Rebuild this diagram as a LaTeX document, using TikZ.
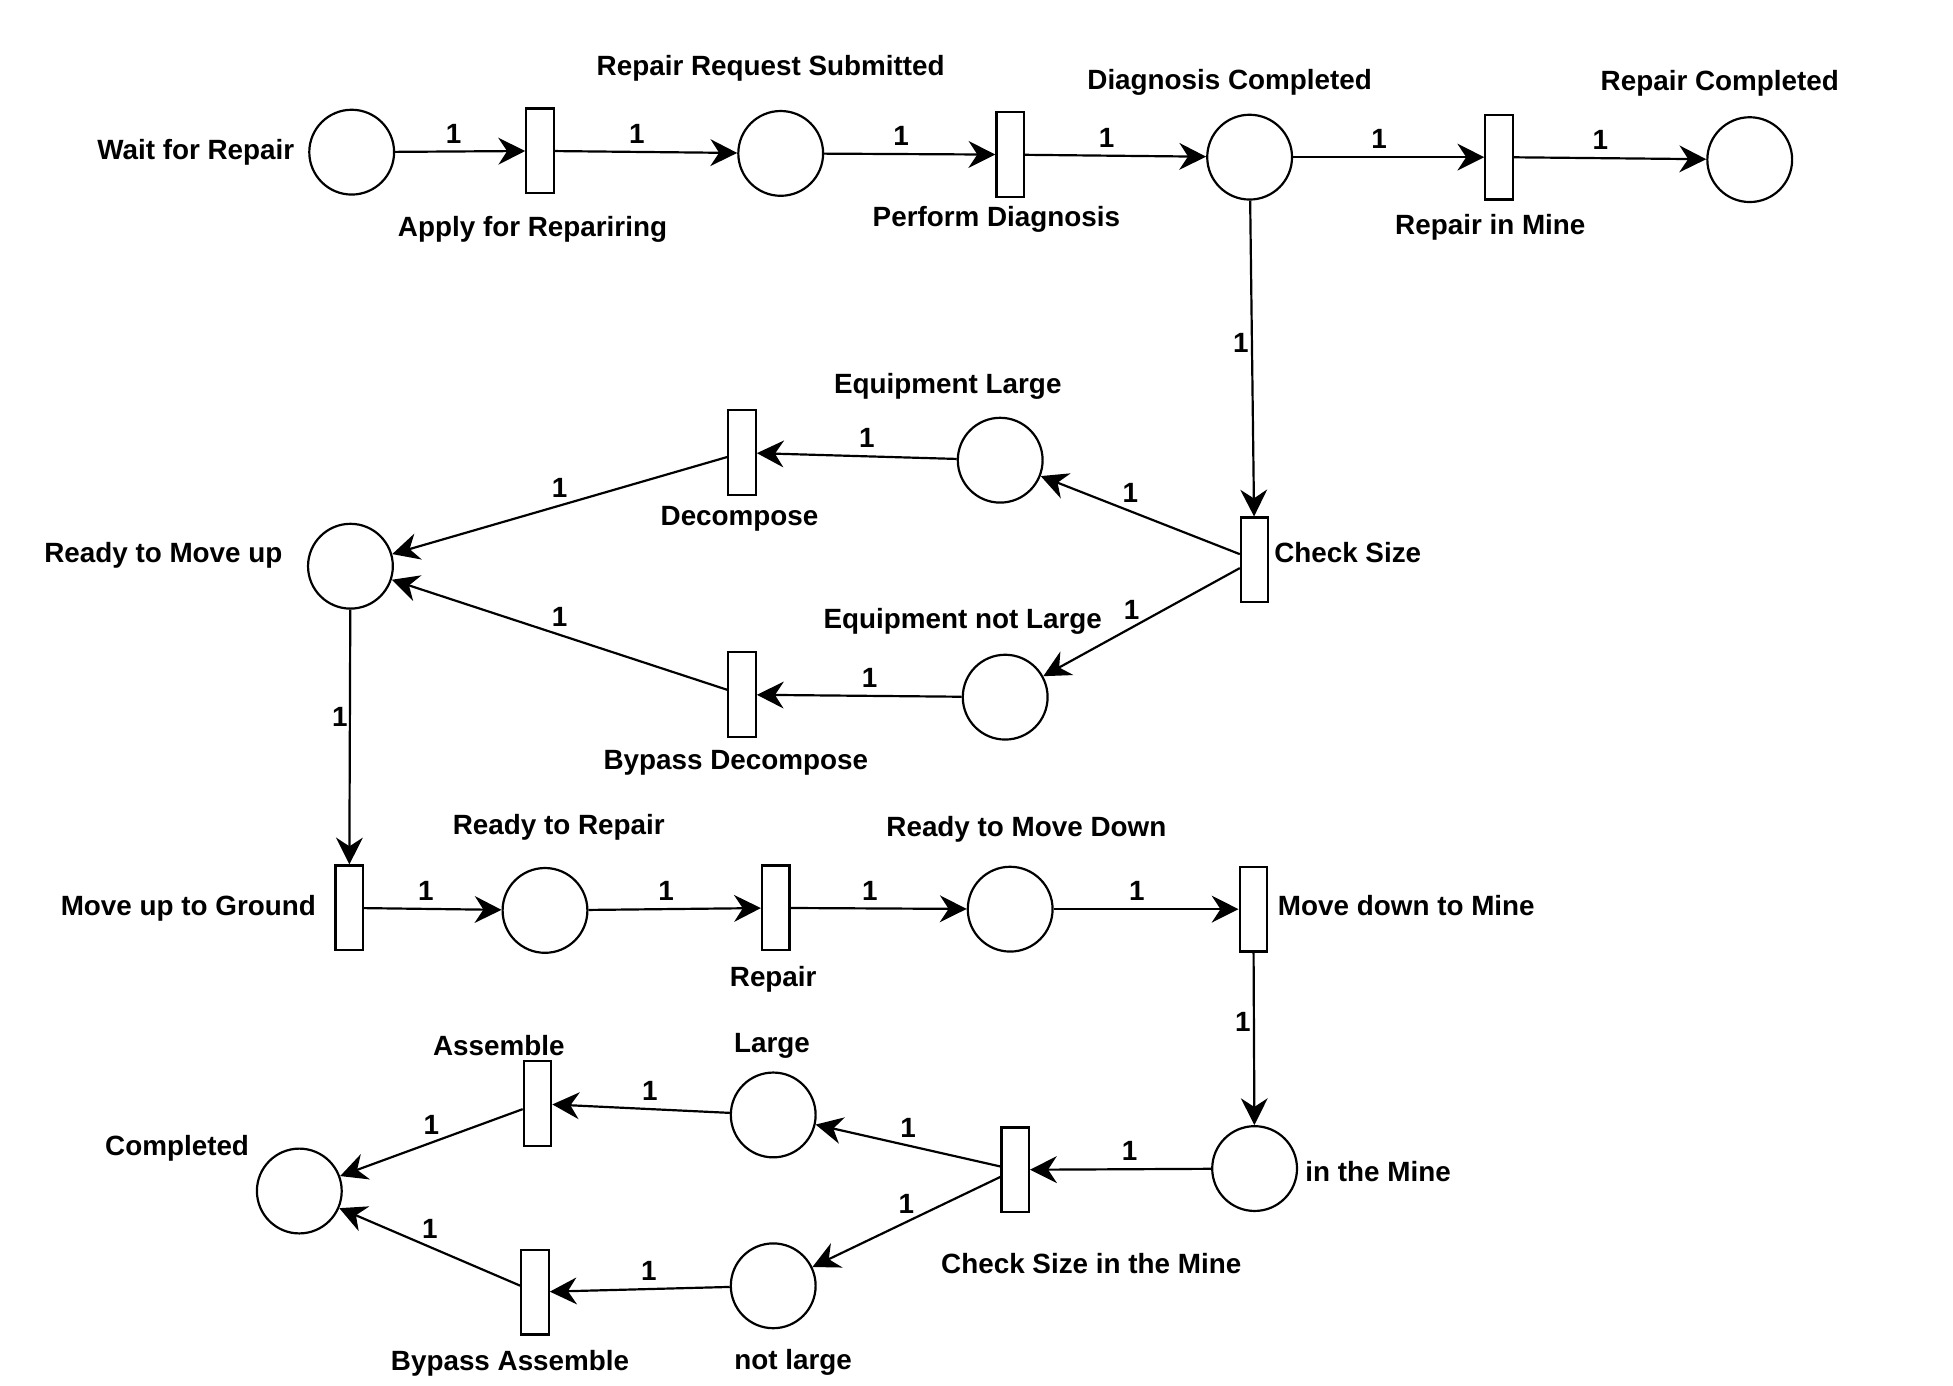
\documentclass[tikz,border=0pt]{standalone}
\usepackage{fontspec}
\setmainfont{Liberation Sans}
\usetikzlibrary{arrows.meta}

\begin{document}
\begin{tikzpicture}[x=2cm,y=2cm,line width=1pt,font=\fontsize{12.7}{14}\selectfont\bfseries,
  place/.style={draw,circle,minimum size=1.36cm,inner sep=0pt},
  trans/.style={draw,rectangle,minimum width=0.44cm,minimum height=1.36cm,inner sep=0pt},
  arc/.style={-{Stealth[length=4.3mm,width=4.3mm,inset=1.4mm]}}]
\useasboundingbox (0,0) rectangle (15.66,-11.11);
% places
\node[place](wait) at (2.82,-1.22){};
\node[place](submitted) at (6.26,-1.23){};
\node[place](diagnosed) at (10.02,-1.26){};
\node[place](repaired) at (14.03,-1.28){};
\node[place](large) at (8.02,-3.69){};
\node[place](notlarge) at (8.06,-5.59){};
\node[place](moveup) at (2.81,-4.54){};
\node[place](readyrep) at (4.37,-7.30){};
\node[place](movedown) at (8.10,-7.29){};
\node[place](inmine) at (10.06,-9.37){};
\node[place](mlarge) at (6.20,-8.94){};
\node[place](mnotlarge) at (6.20,-10.31){};
\node[place](done) at (2.40,-9.55){};
% transitions
\node[trans](apply) at (4.33,-1.21){};
\node[trans](diagnose) at (8.10,-1.24){};
\node[trans](repmine) at (12.02,-1.26){};
\node[trans](decomp) at (5.95,-3.63){};
\node[trans](check) at (10.06,-4.49){};
\node[trans](bypassd) at (5.95,-5.57){};
\node[trans](toground) at (2.80,-7.28){};
\node[trans](repair) at (6.22,-7.28){};
\node[trans](tomine) at (10.05,-7.29){};
\node[trans](assemble) at (4.31,-8.85){};
\node[trans](checkmine) at (8.14,-9.38){};
\node[trans](bypassa) at (4.29,-10.36){};
% texts
\node(lwait) at (1.57,-1.22){Wait for Repair};
\node(lsubmitted) at (6.18,-0.55){Repair Request Submitted};
\node(ldiagnosed) at (9.86,-0.66){Diagnosis Completed};
\node(lrepaired) at (13.79,-0.67){Repair Completed};
\node(lapply) at (4.27,-1.84){Apply for Repariring};
\node(ldiagnose) at (7.99,-1.76){Perform Diagnosis};
\node(lrepmine) at (11.95,-1.82){Repair in Mine};
\node(llarge) at (7.60,-3.10){Equipment Large};
\node(ldecomp) at (5.93,-4.16){Decompose};
\node(lmoveup) at (1.31,-4.45){Ready to Move up};
\node[anchor=west](lcheck) at (10.15,-4.43){Check Size};
\node(lnotlarge) at (7.72,-4.98){Equipment not Large};
\node(lbypassd) at (5.90,-6.12){Bypass Decompose};
\node(lreadyrep) at (4.48,-6.63){Ready to Repair};
\node(lmovedown) at (8.23,-6.65){Ready to Move Down};
\node(ltoground) at (1.51,-7.28){Move up to Ground};
\node[anchor=west](ltomine) at (10.18,-7.26){Move down to Mine};
\node(lrepair) at (6.20,-7.85){Repair};
\node(lassemble) at (4.00,-8.38){Assemble};
\node(lmlarge) at (6.19,-8.39){Large};
\node(ldone) at (1.42,-9.21){Completed};
\node[anchor=west](linmine) at (10.40,-9.39){in the Mine};
\node(lcheckmine) at (8.75,-10.13){Check Size in the Mine};
\node(lbypassa) at (4.09,-10.93){Bypass Assemble};
\node(lmnotlarge) at (6.36,-10.92){not large};
% arcs
\draw[arc] (wait) -- (apply) node[pos=.45,above]{1};
\draw[arc] (apply) -- (submitted) node[pos=.45,above]{1};
\draw[arc] (submitted) -- (diagnose) node[pos=.45,above]{1};
\draw[arc] (diagnose) -- (diagnosed) node[pos=.45,above]{1};
\draw[arc] (diagnosed) -- (repmine) node[pos=.45,above]{1};
\draw[arc] (repmine) -- (repaired) node[pos=.45,above]{1};
\draw[arc] (diagnosed) -- (check) node[pos=.45,left,inner sep=1pt]{1};
\draw[arc] (check) -- (large) node[pos=.55,above]{1};
\draw[arc] (check) -- (notlarge) node[pos=.55,above]{1};
\draw[arc] (large) -- (decomp) node[pos=.45,above]{1};
\draw[arc] (notlarge) -- (bypassd) node[pos=.45,above]{1};
\draw[arc] (decomp) -- (moveup) node[midway,above]{1};
\draw[arc] (bypassd) -- (moveup) node[midway,above]{1};
\draw[arc] (moveup) -- (toground) node[pos=.42,left,inner sep=0.5pt]{1};
\draw[arc] (toground) -- (readyrep) node[pos=.45,above]{1};
\draw[arc] (readyrep) -- (repair) node[pos=.45,above]{1};
\draw[arc] (repair) -- (movedown) node[pos=.45,above]{1};
\draw[arc] (movedown) -- (tomine) node[pos=.45,above]{1};
\draw[arc] (tomine) -- (inmine) node[pos=.4,left,inner sep=1pt]{1};
\draw[arc] (inmine) -- (checkmine) node[pos=.45,above]{1};
\draw[arc] (checkmine) -- (mlarge) node[midway,above]{1};
\draw[arc] (checkmine) -- (mnotlarge) node[midway,above]{1};
\draw[arc] (mlarge) -- (assemble) node[pos=.45,above]{1};
\draw[arc] (mnotlarge) -- (bypassa) node[pos=.45,above]{1};
\draw[arc] (assemble) -- (done) node[midway,above]{1};
\draw[arc] (bypassa) -- (done) node[midway,above]{1};
\end{tikzpicture}
\end{document}
